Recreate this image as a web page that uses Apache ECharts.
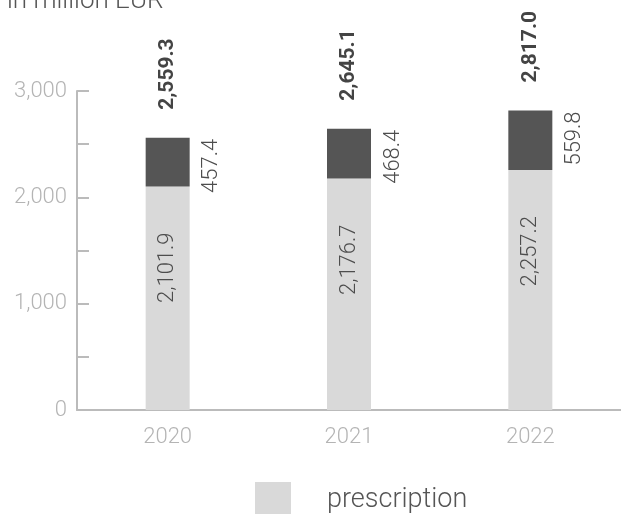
<!DOCTYPE html>
<html><head><meta charset="utf-8">
<script src="https://cdn.jsdelivr.net/npm/echarts@6/dist/echarts.min.js"></script>
<style>html,body{margin:0;padding:0;background:#fff}#c{width:621px;height:514px}</style>
</head><body><div id="c"></div>
<script>
const categories = ['2020', '2021', '2022'];
const prescription = [2101.9, 2176.7, 2257.2];
const other = [457.4, 468.4, 559.8];
const totals = [2559.3, 2645.1, 2817.0];
const yTicks = [0, 1000, 2000, 3000];

const fmt = v => v.toLocaleString('en-US', {minimumFractionDigits: 1, maximumFractionDigits: 1});
const FONT = 'Roboto, "Liberation Sans", sans-serif';

const chart = echarts.init(document.getElementById('c'), null, {renderer: 'canvas'});
chart.setOption({
  animation: false,
  textStyle: {fontFamily: FONT},
  title: {
    text: 'in million EUR', left: 2, top: -17,
    textStyle: {fontFamily: FONT, fontWeight: 300, fontSize: 26, color: '#555'}
  },
  legend: {
    data: ['prescription'], top: 482, left: 255, padding: 0,
    itemWidth: 36, itemHeight: 36, icon: 'rect',
    textStyle: {fontFamily: FONT, fontWeight: 300, fontSize: 27, color: '#555', padding: [0, 0, 0, 31]}
  },
  grid: {left: 77, right: -2, top: 91, bottom: 104, containLabel: false},
  xAxis: {
    type: 'category', data: categories,
    axisLine: {lineStyle: {color: '#bbb', width: 2}},
    axisTick: {show: false},
    axisLabel: {color: '#b4b4b4', fontSize: 22, fontWeight: 300, margin: 16}
  },
  yAxis: {
    type: 'value', min: 0, max: 3000, interval: 500,
    axisLine: {show: true, lineStyle: {color: '#bbb', width: 2}},
    axisTick: {show: true, inside: true, length: 12, lineStyle: {color: '#bbb', width: 2}},
    splitLine: {show: false},
    axisLabel: {
      color: '#b4b4b4', fontSize: 22, fontWeight: 300, margin: 10,
      formatter: v => yTicks.includes(v) ? v.toLocaleString('en-US') : ''
    }
  },
  series: [
    {
      name: 'prescription', type: 'bar', stack: 's', barWidth: 44,
      data: prescription,
      itemStyle: {color: '#d9d9d9'},
      label: {
        show: true, position: 'insideTop', distance: 46, rotate: 90,
        align: 'right', verticalAlign: 'middle',
        color: '#4d4d4d', fontSize: 22, fontWeight: 300, fontFamily: FONT,
        formatter: p => fmt(p.value)
      }
    },
    {
      name: 'other', type: 'bar', stack: 's', barWidth: 44,
      data: other,
      itemStyle: {color: '#555555'},
      label: {
        show: true, position: ['100%', 0], offset: [-1, 22], rotate: 90,
        align: 'right', verticalAlign: 'middle',
        color: '#4d4d4d', fontSize: 22, fontWeight: 300, fontFamily: FONT,
        formatter: p => fmt(p.value)
      }
    },
    {
      name: 'total', type: 'bar', barWidth: 44, barGap: '-100%',
      data: totals,
      itemStyle: {color: 'rgba(0,0,0,0)'},
      silent: true, z: 10,
      label: {
        show: true, position: 'top', distance: 28, rotate: 90,
        align: 'left', verticalAlign: 'middle',
        color: '#444', fontSize: 21, fontWeight: 'bold', fontFamily: FONT,
        formatter: p => fmt(p.value)
      }
    }
  ]
});
</script></body></html>
